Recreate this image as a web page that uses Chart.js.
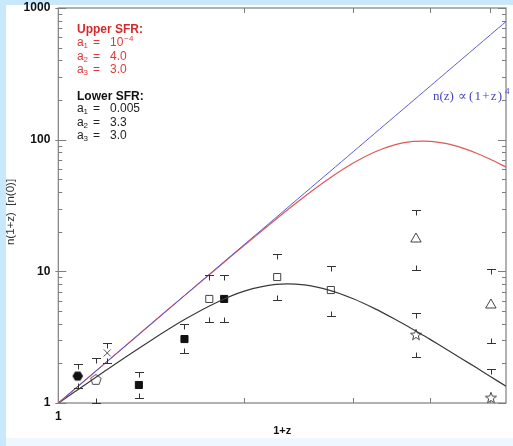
<!DOCTYPE html>
<html>
<head>
<meta charset="utf-8">
<script src="https://cdn.jsdelivr.net/npm/chart.js@4.4.1/dist/chart.umd.min.js"></script>
<style>
  html, body { margin: 0; padding: 0; }
  body { width: 513px; height: 446px; background: #c9e8fb; position: relative; overflow: hidden; }
  #paper { position: absolute; left: 6px; top: 5px; width: 507px; height: 433px; background: #ffffff; }
  #foot { position: absolute; left: 6px; top: 438px; width: 507px; height: 8px; background: #eef7fd; }
  #wrap { position: absolute; left: 0; top: 0; width: 513px; height: 446px; }
</style>
</head>
<body>
<div id="paper"></div>
<div id="foot"></div>
<div id="wrap"><canvas id="c" width="513" height="446"></canvas></div>
<script>
// ---- model curves: number density vs (1+z) ----
const curveX     = [1, 1.2, 1.4, 1.6, 1.8, 2.0, 2.25, 2.5, 2.75, 3.0, 3.25, 3.5, 3.75, 3.9, 4.0, 4.25, 4.5, 4.75, 5.0, 5.3];
const powerLawY  = [1, 2.07, 3.84, 6.55, 10.5, 16, 25.6, 39.1, 57.2, 81, 111.6, 150.1, 197.8, 231.3, 256, 326.3, 410.1, 509.1, 625, 789];
const upperSfrY  = [1.0, 2.07, 3.84, 6.54, 10.43, 15.8, 24.9, 36.8, 51.1, 66.5, 80.7, 91.3, 96.9, 97.5, 97.0, 93.2, 86.6, 78.9, 70.9, 61.9];
const lowerSfrY  = [0.995, 1.80, 2.91, 4.30, 5.78, 7.07, 7.95, 7.89, 7.17, 6.19, 5.21, 4.34, 3.62, 3.25, 3.03, 2.55, 2.16, 1.85, 1.59, 1.34];

// ---- observed points (x, y, upper and lower error limits) ----
const hexX = [1.075], hexY = [1.60], hexHi = [1.98], hexLo = [1.30];
const pentX = [1.15], pentY = [1.50], pentHi = [2.20], pentLo = [1.0];
const crossX = [1.20], crossY = [2.40], crossHi = [2.85], crossLo = [2.01];
const sqFillX = [1.35, 1.60, 1.855], sqFillY = [1.37, 3.06, 6.17], sqFillHi = [1.72, 3.98, 9.37], sqFillLo = [1.09, 2.40, 4.12];
const sqOpenX = [1.755, 2.26, 2.76], sqOpenY = [6.17, 9.05, 7.21], sqOpenHi = [9.37, 13.5, 10.97], sqOpenLo = [4.12, 6.05, 4.58];
const triX = [3.79, 5.01], triY = [17.6, 5.55], triHi = [29.2, 10.4], triLo = [10.2, 2.85];
const starX = [3.79, 5.01], starY = [3.28, 1.09], starHi = [4.83, 1.81], starLo = [2.23, null];

// ---- axis ticks ----
const xTickValues = [1, 2, 3, 4, 5];
const xTickLabels = ['1', '', '', '', ''];
const yDecades = [1, 10, 100, 1000];
const yTickValues = [];
for (let d = 1; d < 1000; d *= 10) for (let m = 1; m < 10; m++) yTickValues.push(m * d);
yTickValues.push(1000);

const pts = (xs, ys) => xs.map((v, i) => ({ x: v, y: ys[i] }));

function marker(n, rOut, rIn, rot, filled) {
  const s = 16, c = document.createElement('canvas');
  c.width = s; c.height = s;
  const g = c.getContext('2d');
  const k = rIn ? 2 * n : n;
  g.beginPath();
  for (let i = 0; i < k; i++) {
    const r = rIn && i % 2 ? rIn : rOut;
    const a = rot + i * Math.PI * 2 / k;
    const px = s / 2 + r * Math.cos(a), py = s / 2 + r * Math.sin(a);
    if (i) g.lineTo(px, py); else g.moveTo(px, py);
  }
  g.closePath();
  if (filled) { g.fillStyle = '#111'; g.fill(); }
  else { g.fillStyle = '#fff'; g.fill(); g.strokeStyle = '#444'; g.lineWidth = 1; g.stroke(); }
  return c;
}
const hexMarker = marker(6, 5.3, 0, 0, true);
const pentMarker = marker(5, 5.5, 0, -Math.PI / 2, false);
const starMarker = marker(5, 5.8, 2.4, -Math.PI / 2, false);

const curve = (ys, color, w) => ({
  data: pts(curveX, ys), showLine: true, pointRadius: 0, borderColor: color,
  borderWidth: w, tension: 0.3, fill: false
});
const obs = (xs, ys, hi, lo, style) => Object.assign({
  data: pts(xs, ys), showLine: false, clip: false, errHi: hi, errLo: lo
}, style);

const datasets = [
  curve(powerLawY, '#5a5ad8', 1),
  curve(upperSfrY, '#de5a5a', 1.2),
  curve(lowerSfrY, '#3a3a3a', 1.2),
  obs(hexX, hexY, hexHi, hexLo, { pointStyle: hexMarker, pointRadius: 6 }),
  obs(pentX, pentY, pentHi, pentLo, { pointStyle: pentMarker, pointRadius: 6 }),
  obs(crossX, crossY, crossHi, crossLo, { pointStyle: 'crossRot', pointRadius: 5, borderColor: '#555', borderWidth: 1 }),
  obs(sqFillX, sqFillY, sqFillHi, sqFillLo, { pointStyle: 'rect', pointRadius: 5, backgroundColor: '#111', borderColor: '#111', borderWidth: 1 }),
  obs(sqOpenX, sqOpenY, sqOpenHi, sqOpenLo, { pointStyle: 'rect', pointRadius: 5, backgroundColor: '#fff', borderColor: '#444', borderWidth: 1 }),
  obs(triX, triY, triHi, triLo, { pointStyle: 'triangle', pointRadius: 6, backgroundColor: '#fff', borderColor: '#444', borderWidth: 1 }),
  obs(starX, starY, starHi, starLo, { pointStyle: starMarker, pointRadius: 6 })
];

// box frame with inward tick marks on all four sides
const framePlugin = {
  id: 'frame',
  beforeDatasetsDraw(chart) {
    const { ctx, chartArea: a, scales: { x, y } } = chart;
    ctx.save();
    ctx.strokeStyle = '#7d7d7d';
    ctx.lineWidth = 1.2;
    ctx.strokeRect(a.left, a.top, a.right - a.left, a.bottom - a.top);
    ctx.lineWidth = 1;
    ctx.beginPath();
    yTickValues.forEach(v => {
      const p = Math.round(y.getPixelForValue(v)) + 0.5;
      const major = yDecades.includes(v);
      const len = major ? 8 : 4;
      ctx.moveTo(a.left - (major ? 3 : 0), p); ctx.lineTo(a.left + len, p);
      ctx.moveTo(a.right, p); ctx.lineTo(a.right - len, p);
    });
    xTickValues.forEach(v => {
      if (v === 1) return;
      const p = Math.round(x.getPixelForValue(v)) + 0.5;
      ctx.moveTo(p, a.bottom); ctx.lineTo(p, a.bottom - 5);
      ctx.moveTo(p, a.top); ctx.lineTo(p, a.top + 5);
    });
    ctx.stroke();
    ctx.restore();
  }
};

// error limits drawn as caps: "T" above, inverted "T" below
const errorCapPlugin = {
  id: 'errorCaps',
  afterDatasetsDraw(chart) {
    const { ctx, scales: { x, y } } = chart;
    ctx.save();
    ctx.strokeStyle = '#333';
    ctx.lineWidth = 1;
    ctx.beginPath();
    chart.data.datasets.forEach(ds => {
      if (!ds.errHi) return;
      ds.data.forEach((p, i) => {
        const px = Math.round(x.getPixelForValue(p.x)) + 0.5;
        const hi = ds.errHi[i], lo = ds.errLo[i];
        if (hi != null) {
          const py = Math.round(y.getPixelForValue(hi)) + 0.5;
          ctx.moveTo(px - 4.5, py); ctx.lineTo(px + 4.5, py);
          ctx.moveTo(px, py); ctx.lineTo(px, py + 5);
        }
        if (lo != null) {
          const py = Math.round(y.getPixelForValue(lo)) + 0.5;
          ctx.moveTo(px - 4.5, py); ctx.lineTo(px + 4.5, py);
          ctx.moveTo(px, py); ctx.lineTo(px, py - 5);
        }
      });
    });
    ctx.stroke();
    ctx.restore();
  }
};

// parameter notes, curve label and vertical axis title
const notesPlugin = {
  id: 'notes',
  afterDraw(chart) {
    const ctx = chart.ctx;
    const sans = '"Liberation Sans", Arial, sans-serif';
    ctx.save();
    ctx.textBaseline = 'middle';
    ctx.textAlign = 'left';

    const param = (x, yy, sub, val, sup, color) => {
      ctx.fillStyle = color;
      ctx.font = '12px ' + sans;
      ctx.fillText('a', x, yy);
      ctx.font = '8px ' + sans;
      ctx.fillText(sub, x + 6.5, yy + 3);
      ctx.font = '12px ' + sans;
      ctx.fillText('=', x + 16, yy);
      ctx.fillText(val, x + 33, yy);
      if (sup) {
        const w = ctx.measureText(val).width;
        ctx.font = '8px ' + sans;
        ctx.fillText(sup, x + 34 + w, yy - 4);
      }
    };

    ctx.fillStyle = '#d42a2a';
    ctx.font = 'bold 12px ' + sans;
    ctx.fillText('Upper SFR:', 77, 30);
    param(77, 43, '1', '10', '\u22124', '#dd3a3a');
    param(77, 57, '2', '4.0', '', '#dd3a3a');
    param(77, 70, '3', '3.0', '', '#dd3a3a');

    ctx.fillStyle = '#111';
    ctx.font = 'bold 12px ' + sans;
    ctx.fillText('Lower SFR:', 77, 97);
    param(77, 109, '1', '0.005', '', '#222');
    param(77, 123, '2', '3.3', '', '#222');
    param(77, 136, '3', '3.0', '', '#222');

    const serif = '"Liberation Serif", "DejaVu Serif", serif';
    ctx.fillStyle = '#4646bc';
    ctx.font = '13px ' + serif;
    ctx.fillText('n(z)', 433, 97);
    ctx.fillText('\u221d', 458, 97);
    ctx.letterSpacing = '1.2px';
    ctx.fillText('(1+z)', 469, 97);
    ctx.letterSpacing = '0px';
    ctx.font = '9px ' + serif;
    ctx.fillText('4', 505, 92);

    ctx.translate(11, 212);
    ctx.rotate(-Math.PI / 2);
    ctx.textAlign = 'center';
    ctx.fillStyle = '#333';
    ctx.font = '11.5px ' + sans;
    ctx.fillText('n(1+z)  [n(0)]', 0, 0);
    ctx.restore();
  }
};

const tickFont = { family: '"Liberation Sans", Arial, sans-serif', size: 12, weight: 'bold' };
// keep tick labels from reserving extra room around the plot box
const noOverhang = s => { s.paddingLeft = 0; s.paddingRight = 0; s.paddingTop = 0; s.paddingBottom = 0; };

new Chart(document.getElementById('c'), {
  type: 'scatter',
  data: { datasets },
  options: {
    responsive: false,
    animation: false,
    devicePixelRatio: 1,
    layout: { padding: { left: 5, top: 8, right: 1, bottom: 8 } },
    plugins: { legend: { display: false }, tooltip: { enabled: false } },
    scales: {
      x: {
        type: 'logarithmic', min: 1, max: 5.3, position: 'bottom',
        grid: { display: false, drawTicks: false },
        border: { display: false },
        afterBuildTicks: s => { s.ticks = xTickValues.map(v => ({ value: v })); },
        afterFit: s => { s.height = 446 - 8 - 403; noOverhang(s); },
        ticks: {
          autoSkip: false, maxRotation: 0, padding: 6, color: '#111', font: tickFont,
          callback: (v, i) => xTickLabels[i]
        },
        title: {
          display: true, text: '1+z', padding: 0, color: '#111',
          font: { family: '"Liberation Sans", Arial, sans-serif', size: 11, weight: 'bold' }
        }
      },
      y: {
        type: 'logarithmic', min: 1, max: 1000,
        grid: { display: false, drawTicks: false },
        border: { display: false },
        afterBuildTicks: s => { s.ticks = yTickValues.map(v => ({ value: v })); },
        afterFit: s => { s.width = 53.3; noOverhang(s); },
        ticks: {
          autoSkip: false, padding: 8, color: '#111', font: tickFont,
          callback: v => yDecades.includes(v) ? String(v) : ''
        }
      }
    }
  },
  plugins: [framePlugin, errorCapPlugin, notesPlugin]
});
</script>
</body>
</html>
